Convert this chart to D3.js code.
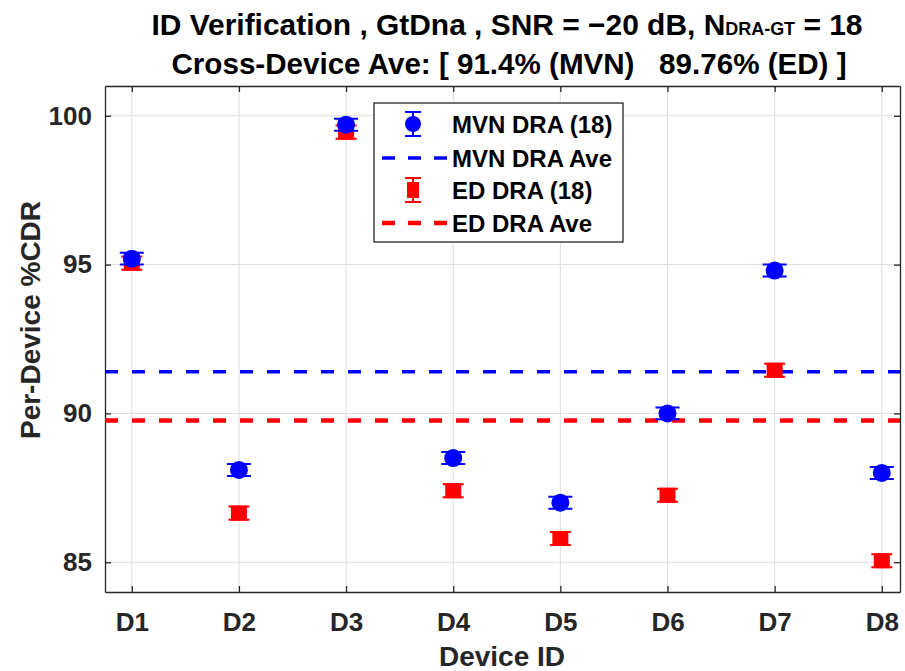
<!DOCTYPE html>
<html>
<head>
<meta charset="utf-8">
<script src="https://cdn.jsdelivr.net/npm/d3@7"></script>
<style>
  body { margin: 0; background: #fff; }
  svg { font-family: "Liberation Sans", Arial, sans-serif; }
</style>
</head>
<body>
<div id="chart"></div>
<script>
const devices = ["D1", "D2", "D3", "D4", "D5", "D6", "D7", "D8"];
const mvnValues = [95.2, 88.1, 99.7, 88.5, 87.0, 90.0, 94.8, 88.0];
const mvnErr = [0.2, 0.2, 0.2, 0.2, 0.2, 0.2, 0.2, 0.2];
const edValues = [95.05, 86.65, 99.45, 87.4, 85.8, 87.25, 91.45, 85.05];
const edErr = [0.22, 0.22, 0.22, 0.22, 0.22, 0.22, 0.22, 0.22];
const mvnAve = 91.4;
const edAve = 89.76;
const yTicks = [85, 90, 95, 100];
const legendLabels = ["MVN DRA (18)", "MVN DRA Ave", "ED DRA (18)", "ED DRA Ave"];

const width = 905;
const height = 671;
const margin = { top: 86, right: 5, bottom: 79, left: 105 };

const svg = d3.select("#chart")
  .append("svg")
  .attr("width", width)
  .attr("height", height);

const x = d3.scaleLinear()
  .domain([0.75, 8.17])
  .range([margin.left, width - margin.right]);

const y = d3.scaleLinear()
  .domain([84, 101])
  .range([height - margin.bottom, margin.top]);

const axisColor = "#262626";
const blue = "#0000ff";
const red = "#ff0000";

// grid
const grid = svg.append("g").attr("stroke", "#dcdcdc").attr("stroke-width", 1);
grid.selectAll("line.vx")
  .data(devices)
  .join("line")
  .attr("class", "vx")
  .attr("x1", (d, i) => x(i + 1))
  .attr("x2", (d, i) => x(i + 1))
  .attr("y1", y.range()[0])
  .attr("y2", y.range()[1]);
grid.selectAll("line.hy")
  .data(yTicks)
  .join("line")
  .attr("class", "hy")
  .attr("x1", x.range()[0])
  .attr("x2", x.range()[1])
  .attr("y1", d => y(d))
  .attr("y2", d => y(d));

// axes, ticks pointing inward like matlab
const xAxis = d3.axisBottom(x)
  .tickValues(devices.map((d, i) => i + 1))
  .tickFormat((d, i) => devices[i])
  .tickSizeInner(-6)
  .tickSizeOuter(0);

const yAxis = d3.axisLeft(y)
  .tickValues(yTicks)
  .tickSizeInner(-6)
  .tickSizeOuter(0)
  .tickPadding(13);

const gx = svg.append("g")
  .attr("transform", `translate(0,${y.range()[0]})`)
  .call(xAxis);
gx.selectAll(".tick text").attr("dy", null).attr("y", 39);

const gy = svg.append("g")
  .attr("transform", `translate(${x.range()[0]},0)`)
  .call(yAxis);

// top and right box edges
svg.append("g")
  .attr("transform", `translate(0,${y.range()[1]})`)
  .call(d3.axisTop(x).tickValues(devices.map((d, i) => i + 1)).tickSizeInner(-6).tickSizeOuter(0).tickFormat(""));
svg.append("g")
  .attr("transform", `translate(${x.range()[1]},0)`)
  .call(d3.axisRight(y).tickValues(yTicks).tickSizeInner(-6).tickSizeOuter(0).tickFormat(""));

svg.selectAll(".domain, .tick line").attr("stroke", axisColor).attr("stroke-width", 1.3);
svg.selectAll(".tick text")
  .attr("fill", axisColor)
  .attr("font-size", 26)
  .attr("font-weight", "bold");

// average lines
svg.append("line")
  .attr("x1", x.range()[0]).attr("x2", x.range()[1])
  .attr("y1", y(mvnAve)).attr("y2", y(mvnAve))
  .attr("stroke", blue).attr("stroke-width", 3.5)
  .attr("stroke-dasharray", "13,14");
svg.append("line")
  .attr("x1", x.range()[0]).attr("x2", x.range()[1])
  .attr("y1", y(edAve)).attr("y2", y(edAve))
  .attr("stroke", red).attr("stroke-width", 4.5)
  .attr("stroke-dasharray", "13,14");

function errorBars(g, values, errs, color, capW) {
  g.selectAll("path.eb")
    .data(values)
    .join("path")
    .attr("class", "eb")
    .attr("fill", "none")
    .attr("stroke", color)
    .attr("stroke-width", 2)
    .attr("d", (d, i) => {
      const cx = x(i + 1), y0 = y(d - errs[i]), y1 = y(d + errs[i]);
      return `M${cx - capW / 2},${y0}H${cx + capW / 2}M${cx},${y0}V${y1}M${cx - capW / 2},${y1}H${cx + capW / 2}`;
    });
}

const gEd = svg.append("g");
errorBars(gEd, edValues, edErr, red, 21);
gEd.selectAll("rect")
  .data(edValues)
  .join("rect")
  .attr("x", (d, i) => x(i + 1) - 8)
  .attr("y", d => y(d) - 7.5)
  .attr("width", 16)
  .attr("height", 15)
  .attr("fill", red);

const gMvn = svg.append("g");
errorBars(gMvn, mvnValues, mvnErr, blue, 24);
gMvn.selectAll("circle")
  .data(mvnValues)
  .join("circle")
  .attr("cx", (d, i) => x(i + 1))
  .attr("cy", d => y(d))
  .attr("r", 9)
  .attr("fill", blue);

// legend
const legend = svg.append("g");
legend.append("rect")
  .attr("x", 374).attr("y", 103)
  .attr("width", 249).attr("height", 139)
  .attr("fill", "#fff")
  .attr("stroke", axisColor)
  .attr("stroke-width", 1.3);

const rowY = [124, 158, 190, 223];
legendLabels.forEach((label, i) => {
  const ly = rowY[i];
  const color = i < 2 ? blue : red;
  if (i === 0 || i === 2) {
    legend.append("path")
      .attr("fill", "none").attr("stroke", color).attr("stroke-width", 2)
      .attr("d", `M405,${ly - 12}H421M413,${ly - 12}V${ly + 12}M405,${ly + 12}H421`);
    if (i === 0) {
      legend.append("circle").attr("cx", 413).attr("cy", ly).attr("r", 8).attr("fill", color);
    } else {
      legend.append("rect").attr("x", 407).attr("y", ly - 8).attr("width", 12).attr("height", 16).attr("fill", color);
    }
  } else {
    legend.append("line")
      .attr("x1", 382).attr("x2", 447)
      .attr("y1", ly).attr("y2", ly)
      .attr("stroke", color)
      .attr("stroke-width", i === 1 ? 3.5 : 4.5)
      .attr("stroke-dasharray", "13,13");
  }
  legend.append("text")
    .attr("x", 452).attr("y", ly + 8.5)
    .attr("font-size", 24)
    .attr("font-weight", "bold")
    .attr("fill", "#000")
    .text(label);
});

// titles
const t1 = svg.append("text")
  .attr("x", 507).attr("y", 35)
  .attr("text-anchor", "middle")
  .attr("font-size", 30)
  .attr("font-weight", "bold")
  .attr("fill", "#000")
  .attr("textLength", 711)
  .attr("lengthAdjust", "spacingAndGlyphs");
t1.append("tspan").text("ID Verification , GtDna , SNR = \u221220 dB, N");
t1.append("tspan").attr("font-size", 18).text("DRA-GT");
t1.append("tspan").text(" = 18");

svg.append("text")
  .attr("x", 509).attr("y", 74)
  .attr("text-anchor", "middle")
  .attr("font-size", 30)
  .attr("font-weight", "bold")
  .attr("fill", "#000")
  .attr("textLength", 675)
  .attr("lengthAdjust", "spacingAndGlyphs")
  .text("Cross-Device Ave: [ 91.4% (MVN)\u00a0\u00a0\u00a089.76% (ED) ]");

svg.append("text")
  .attr("x", 502).attr("y", 666)
  .attr("text-anchor", "middle")
  .attr("font-size", 28)
  .attr("font-weight", "bold")
  .attr("fill", axisColor)
  .text("Device ID");

svg.append("text")
  .attr("transform", "translate(40,320) rotate(-90)")
  .attr("text-anchor", "middle")
  .attr("font-size", 28)
  .attr("font-weight", "bold")
  .attr("fill", axisColor)
  .text("Per-Device %CDR");
</script>
</body>
</html>
